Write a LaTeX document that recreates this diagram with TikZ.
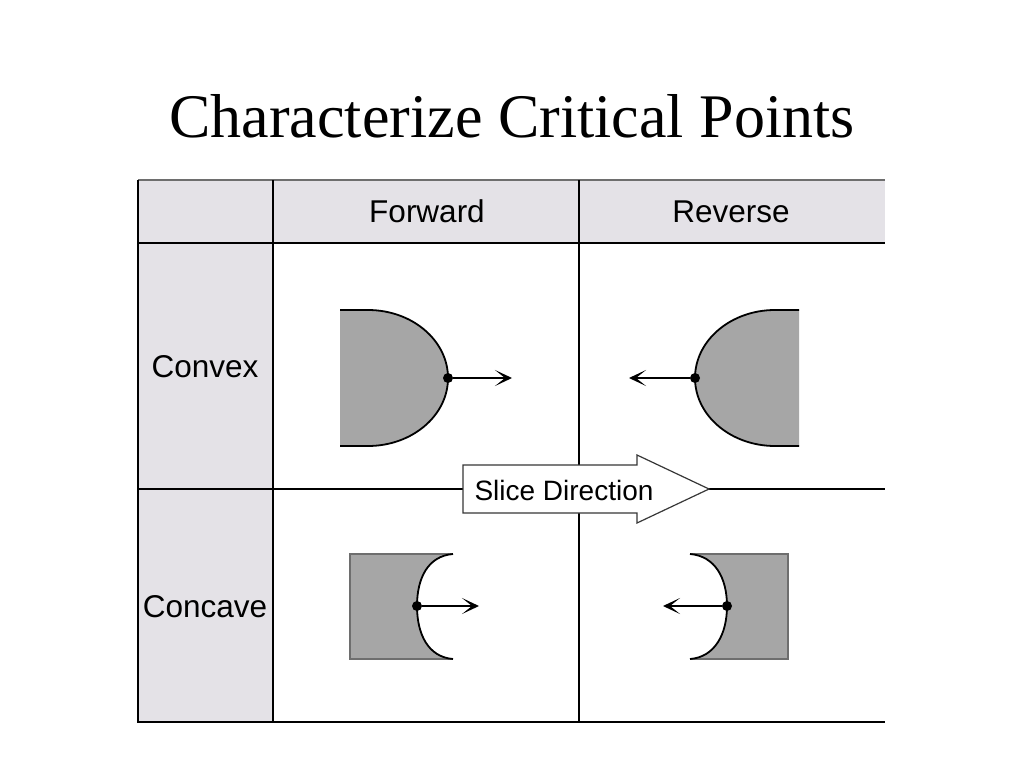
\documentclass[tikz,border=0pt]{standalone}
\usepackage{fontspec}
\setmainfont{Liberation Sans}
\newfontfamily\titlefont{Liberation Serif}
\usetikzlibrary{arrows.meta}
\definecolor{cellgray}{RGB}{228,226,231}
\definecolor{blobgray}{RGB}{166,166,166}
\definecolor{rulegray}{RGB}{110,110,110}
\tikzstyle{cellhead} = [font=\fontsize{31.5}{36}\selectfont, anchor=base]
\tikzstyle{thickrule} = [line width=2.5pt]
\tikzstyle{thinrule} = [line width=1.2pt]
\tikzstyle{blob} = [fill=blobgray]
\tikzstyle{rim} = [line width=1.8pt, line join=round]
\tikzstyle{boxrim} = [line width=1.2pt, draw=rulegray]
\tikzstyle{dot} = [circle, fill, inner sep=0pt, minimum size=10pt]
\tikzstyle{arrow} = [line width=1.8pt, -{Stealth[length=17pt,width=16pt,inset=10pt]}]

\begin{document}
\begin{tikzpicture}[x=1pt, y=-1pt]
    \fill [white] (0,0) rectangle (1024,768);
    \useasboundingbox (0,0) rectangle (1024,768);

    \node (title) [anchor=base, font=\titlefont\fontsize{62}{70}\selectfont] at (512,137) {Characterize Critical Points};

    % table
    \fill [cellgray] (138,180) rectangle (885,243);
    \fill [cellgray] (138,180) rectangle (273,722);
    \draw [thinrule, draw=rulegray] (138,180) -- (885,180);
    \draw [thinrule] (138,180) -- (138,722) -- (885,722);
    \draw [thinrule] (579,180) -- (579,722);
    \draw [thinrule] (138,489) -- (885,489);
    \draw [thickrule] (273,180) -- (273,722);
    \draw [thickrule] (138,243) -- (885,243);

    \node (fwd) [cellhead] at (427,222) {Forward};
    \node (rev) [cellhead] at (731,222) {Reverse};
    \node (cvx) [cellhead] at (205,377) {Convex};
    \node (ccv) [cellhead] at (205,617) {Concave};

    % convex, forward
    \fill [blob] (340,310) -- (368,310) arc [start angle=-90, end angle=90, x radius=80, y radius=68] -- (340,446) -- cycle;
    \draw [rim] (340,310) -- (368,310) arc [start angle=-90, end angle=90, x radius=80, y radius=68] -- (340,446);
    \node (fcx) [dot] at (448,378) {};
    \coordinate (fcxend) at (512,378);
    \draw [arrow] (fcx) -- (fcxend);

    % convex, reverse
    \fill [blob] (799,310) -- (775,310) arc [start angle=-90, end angle=-270, x radius=80, y radius=68] -- (799,446) -- cycle;
    \draw [rim] (799,310) -- (775,310) arc [start angle=-90, end angle=-270, x radius=80, y radius=68] -- (799,446);
    \node (rcx) [dot] at (695,378) {};
    \coordinate (rcxend) at (629,378);
    \draw [arrow] (rcx) -- (rcxend);

    % concave, forward
    \fill [blob] (350,554) -- (453,554) .. controls (428,556) and (417,578) .. (417,606)
      .. controls (417,634) and (428,657) .. (453,659) -- (350,659) -- cycle;
    \draw [boxrim] (453,554) -- (350,554) -- (350,659) -- (453,659);
    \draw [rim] (453,554) .. controls (428,556) and (417,578) .. (417,606)
      .. controls (417,634) and (428,657) .. (453,659);
    \node (fcc) [dot] at (417,606) {};
    \coordinate (fccend) at (479,606);
    \draw [arrow] (fcc) -- (fccend);

    % concave, reverse
    \fill [blob] (788,554) -- (690,554) .. controls (715,556) and (727,578) .. (727,606)
      .. controls (727,634) and (715,657) .. (690,659) -- (788,659) -- cycle;
    \draw [boxrim] (690,554) -- (788,554) -- (788,659) -- (690,659);
    \draw [rim] (690,554) .. controls (715,556) and (727,578) .. (727,606)
      .. controls (727,634) and (715,657) .. (690,659);
    \node (rcc) [dot] at (727,606) {};
    \coordinate (rccend) at (663,606);
    \draw [arrow] (rcc) -- (rccend);

    % slice direction
    \draw [thinrule, fill=white, draw=rulegray!50!black] (463,465) -- (637,465) -- (637,455) -- (709,489)
      -- (637,523) -- (637,513) -- (463,513) -- cycle;
    \node (slice) [anchor=base west, font=\fontsize{28}{32}\selectfont] at (471,500) {Slice Direction};
\end{tikzpicture}
\end{document}
